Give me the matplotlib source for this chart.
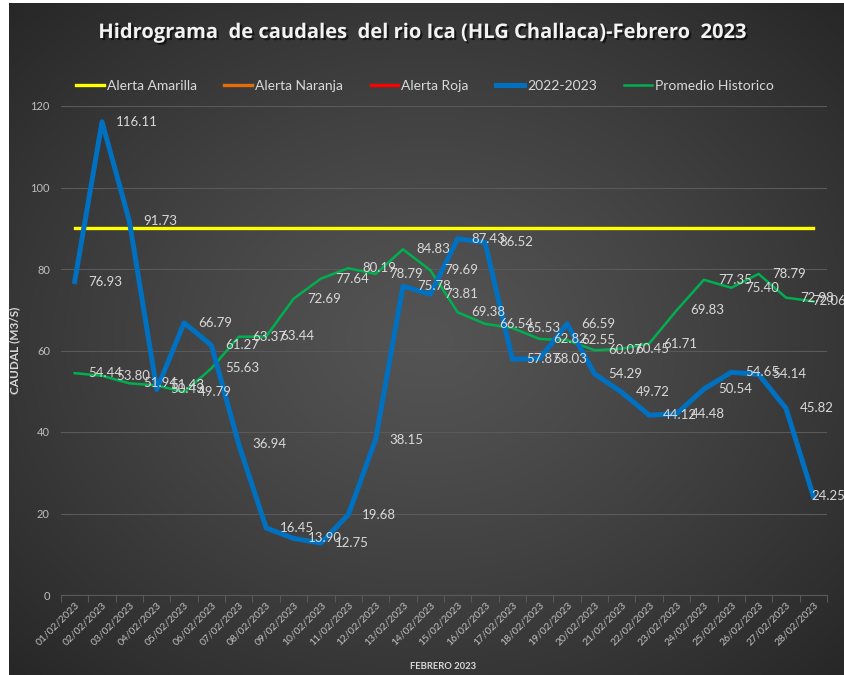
import numpy as np
import matplotlib
matplotlib.use("Agg")
import matplotlib.pyplot as plt
import matplotlib.patheffects as pe

# ---- data ----
fechas = [f"{d:02d}/02/2023" for d in range(1, 29)]

caudal_2023 = [76.93, 116.11, 91.73, 50.43, 66.79, 61.27, 36.94, 16.45, 13.90, 12.75,
               19.68, 38.15, 75.78, 73.81, 87.43, 86.52, 57.87, 58.03, 66.59, 54.29,
               49.72, 44.12, 44.48, 50.54, 54.65, 54.14, 45.82, 24.25]

promedio_hist = [54.44, 53.80, 51.94, 51.43, 49.79, 55.63, 63.37, 63.44, 72.69, 77.64,
                 80.19, 78.79, 84.83, 79.69, 69.38, 66.54, 65.53, 62.82, 62.55, 60.07,
                 60.45, 61.71, 69.83, 77.35, 75.40, 78.79, 72.98, 72.06]

alerta_amarilla = 90.0
alerta_naranja = None   # not drawn in the reference, legend entry only
alerta_roja = None

y_ticks = [0, 20, 40, 60, 80, 100, 120]

plt.rcParams["font.family"] = ["Lato", "DejaVu Sans"]

W, H = 845, 675
fig = plt.figure(figsize=(W / 100, H / 100), dpi=100, facecolor="white")

# dark radial gradient background (chart area has a small white margin left/top)
bg = fig.add_axes([9 / W, 0, 1 - 9 / W, 1 - 3 / H])
yy, xx = np.mgrid[0:1:300j, 0:1:380j]
r = np.sqrt(((xx - 0.5) / 0.75) ** 2 + ((yy - 0.5) / 0.75) ** 2)
shade = 0.33 - 0.19 * np.clip(r, 0, 1) ** 1.2
bg.imshow(np.dstack([shade] * 3), extent=[0, 1, 0, 1], aspect="auto")
bg.axis("off")

ax = fig.add_axes([61 / W, 1 - 595 / H, (827 - 61) / W, (595 - 106) / H])
ax.patch.set_alpha(0)

x = np.arange(len(fechas))

def nivel(v):
    return [np.nan if v is None else v] * len(fechas)

ax.plot(x, nivel(alerta_amarilla), color="#FFFF00", lw=2.4, label="Alerta Amarilla", zorder=3)
ax.plot(x, nivel(alerta_naranja), color="#E46C0A", lw=2.4, label="Alerta Naranja", zorder=3)
ax.plot(x, nivel(alerta_roja), color="#FF0000", lw=2.4, label="Alerta Roja", zorder=3)
ax.plot(x, caudal_2023, color="#0070C0", lw=3.6, label="2022-2023", zorder=4,
        solid_joinstyle="round")
ax.plot(x, promedio_hist, color="#00B050", lw=1.8, label="Promedio Historico", zorder=3)

# data labels to the right of each point; the last ones are pulled inside the chart
lab_col = "#D9D9D9"
last = len(fechas) - 1
for serie in (caudal_2023, promedio_hist):
    for xi, v in zip(x, serie):
        dx = -1 if xi == last else 10
        ax.annotate(f"{v:.2f}", (xi, v), xytext=(dx, 0), textcoords="offset points",
                    ha="left", va="center", fontsize=9.5, color=lab_col, zorder=6,
                    annotation_clip=False)

ax.set_xlim(-0.5, len(fechas) - 0.5)
ax.set_ylim(0, 120)
ax.set_yticks(y_ticks)
ax.set_xticks(x)
ax.set_xticklabels(fechas, rotation=45, ha="right", rotation_mode="anchor",
                   fontsize=7.5, color="#BFBFBF")
ax.set_xticks(np.arange(-0.5, len(fechas), 1), minor=True)
ax.tick_params(axis="x", which="major", length=0, pad=4)
ax.tick_params(axis="x", which="minor", length=5, color="#595959", width=0.8)
ax.tick_params(axis="y", length=0, labelsize=8, labelcolor="#BFBFBF", pad=8)

ax.grid(axis="y", color="#5A5A5A", lw=0.8, zorder=0)
for s in ["top", "right", "left"]:
    ax.spines[s].set_visible(False)
ax.spines["bottom"].set_color("#595959")
ax.spines["bottom"].set_linewidth(0.8)

ax.set_ylabel("CAUDAL (M3/S)", fontsize=8.5, fontweight="bold", color="#D9D9D9")
ax.yaxis.set_label_coords((20 - 61) / 766, 0.5)
ax.set_xlabel("FEBRERO 2023", fontsize=6.8, fontweight="bold", color="#D9D9D9")
ax.xaxis.set_label_coords((443 - 61) / 766, (595 - 662) / 489)

# legend centred on the figure, just above the plot area
leg = fig.legend(*ax.get_legend_handles_labels(), loc="center",
                 bbox_to_anchor=(425 / W, 1 - 86 / H), ncol=5, frameon=False,
                 fontsize=10, labelcolor="#D9D9D9", handlelength=2.0, handletextpad=0.2,
                 columnspacing=2.0)

fig.text(0.5, 1 - 33 / H,
         "Hidrograma  de caudales  del rio Ica (HLG Challaca)-Febrero  2023",
         ha="center", va="center", fontsize=14.5, fontweight="bold", color="#F2F2F2",
         family=["Open Sans", "DejaVu Sans"],
         path_effects=[pe.withSimplePatchShadow(offset=(1.5, -1.5), shadow_rgbFace="black",
                                                alpha=0.6)])

fig.savefig("out.png", dpi=100, facecolor=fig.get_facecolor())
